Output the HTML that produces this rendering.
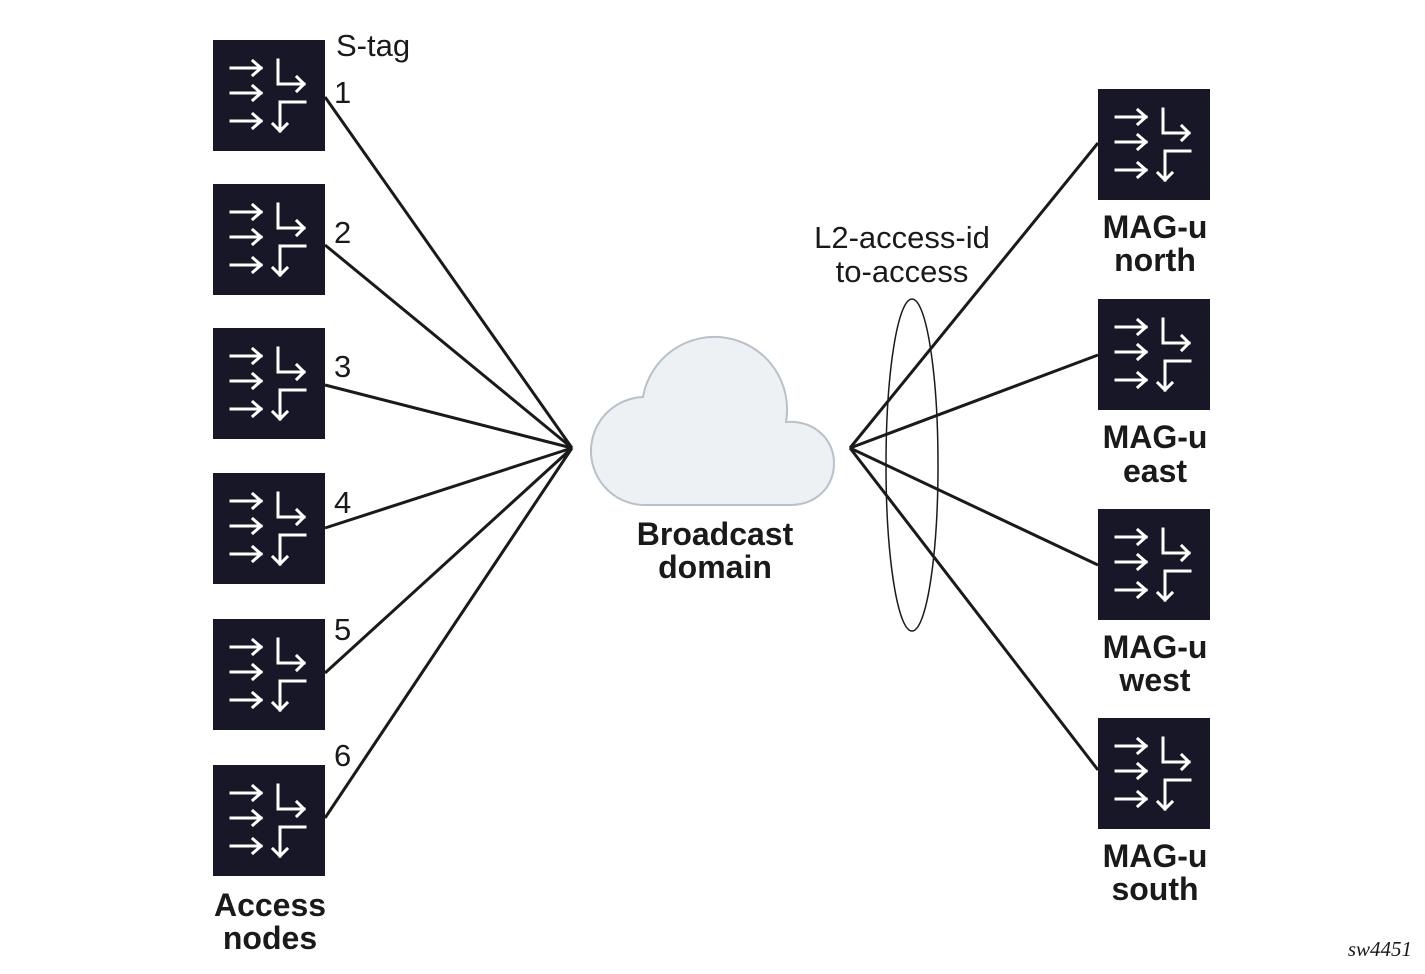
<!DOCTYPE html>
<html><head><meta charset="utf-8"><style>
body{margin:0;background:#fff}
svg text{font-family:"Liberation Sans",Arial,sans-serif}
</style></head><body>
<svg width="1425" height="969" viewBox="0 0 1425 969" xmlns="http://www.w3.org/2000/svg">
<defs>
<g id="n">
<rect width="112" height="111" fill="#171727"/>
<g stroke="#fff" stroke-width="3" fill="none" stroke-linecap="square">
<path d="M18 28H48M40 21L48 28L40 35"/>
<path d="M18 53H48M40 46L48 53L40 60"/>
<path d="M18 81H48M40 74L48 81L40 88"/>
<path d="M65 20V44H91M84 37L91 44L84 51"/>
<path d="M92 62H67V91M60 84L67 91L74 84"/>
</g>
</g>
</defs>
<g stroke="#1a1a1a" stroke-width="3" fill="none">
<path d="M325 97L572 448M325 245L572 448M325 385L572 448M325 528L572 448M325 673L572 448M325 818L572 448"/>
<path d="M850 448L1098 143M850 448L1098 355M850 448L1098 565M850 448L1098 770"/>
</g>
<ellipse cx="912" cy="465" rx="26" ry="166" fill="none" stroke="#1a1a1a" stroke-width="1.5"/>
<path d="M643 397 A70 70 0 0 1 786 422 C815 420 834 440 834 463 C834 488 815 505 790 505 H647 A54 54 0 0 1 643 397 Z" fill="#edf1f4" stroke="#b8c0ca" stroke-width="2"/>
<use href="#n" x="213" y="40"/><use href="#n" x="213" y="184"/><use href="#n" x="213" y="328"/>
<use href="#n" x="213" y="473"/><use href="#n" x="213" y="619"/><use href="#n" x="213" y="765"/>
<use href="#n" x="1098" y="89"/><use href="#n" x="1098" y="299"/><use href="#n" x="1098" y="509"/><use href="#n" x="1098" y="718"/>
<g font-size="31" fill="#1a1a1a">
<text x="336" y="56">S-tag</text>
<text x="334" y="103">1</text><text x="334" y="243">2</text><text x="334" y="377">3</text>
<text x="334" y="513">4</text><text x="334" y="640">5</text><text x="334" y="766">6</text>
<text x="902" y="248" text-anchor="middle">L2-access-id</text>
<text x="902" y="282" text-anchor="middle">to-access</text>
</g>
<g font-size="32" font-weight="bold" fill="#1a1a1a" text-anchor="middle">
<text x="270" y="916">Access</text><text x="270" y="949">nodes</text>
<text x="715" y="545">Broadcast</text><text x="715" y="578">domain</text>
<text x="1155" y="238">MAG-u</text><text x="1155" y="271">north</text>
<text x="1155" y="448">MAG-u</text><text x="1155" y="482">east</text>
<text x="1155" y="658">MAG-u</text><text x="1155" y="691">west</text>
<text x="1155" y="867">MAG-u</text><text x="1155" y="900">south</text>
</g>
<text x="1412" y="956" font-size="21" font-style="italic" text-anchor="end" fill="#1a1a1a" style="font-family:'Liberation Serif',serif">sw4451</text>
</svg>
</body></html>
